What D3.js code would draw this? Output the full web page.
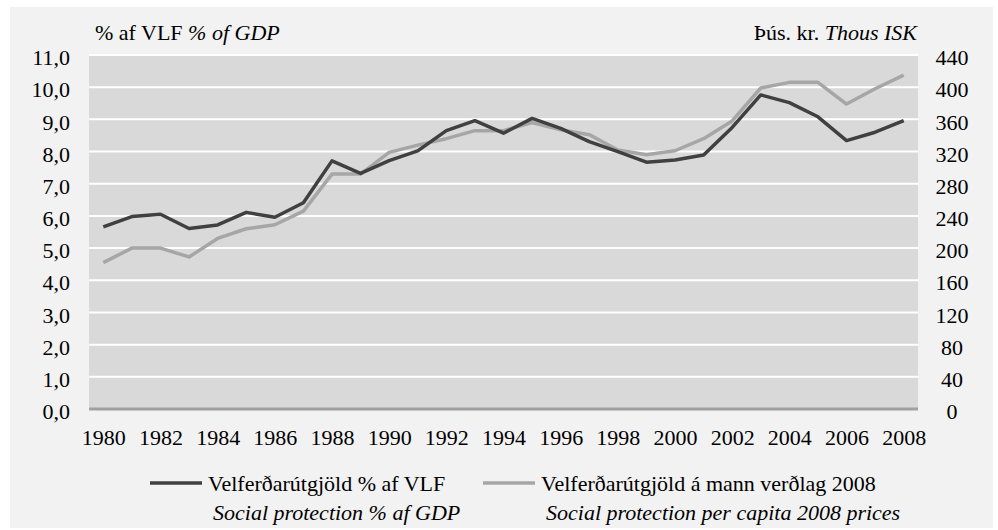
<!DOCTYPE html>
<html>
<head>
<meta charset="utf-8">
<script src="https://cdn.jsdelivr.net/npm/d3@7"></script>
<style>
  body { margin: 0; background: #fff; }
  svg text { font-family: "Liberation Serif", "Times New Roman", serif; fill: #000; }
</style>
</head>
<body>
<svg id="chart" width="998" height="530"></svg>
<script>
'use strict';
var years = d3.range(1980, 2009);
var yearTicks = d3.range(1980, 2009, 2);
// Velferðarútgjöld % af VLF (left axis)
var pctGdp = [5.66, 5.98, 6.05, 5.61, 5.72, 6.11, 5.96, 6.41, 7.71, 7.32,
  7.72, 8.02, 8.65, 8.96, 8.57, 9.03, 8.72, 8.31, 8.0, 7.67,
  7.74, 7.89, 8.75, 9.76, 9.52, 9.08, 8.34, 8.6, 8.96];
// Velferðarútgjöld á mann verðlag 2008, þús. kr. (right axis)
var perCapita = [182, 200, 200, 189, 212, 224, 229, 246, 292, 292,
  319, 328, 336, 346, 346, 356, 347, 341, 322, 316,
  321, 336, 358, 399, 406, 406, 379, 398, 415];
var leftTicks = d3.range(0, 12, 1);
var rightTicks = d3.range(0, 480, 40);

(function() {
  var svg = d3.select('#chart');
  var plot = {left: 89, right: 918, top: 55, bottom: 409};
  var fs = '22px';

  svg.append('rect')
    .attr('x', 10).attr('y', 7)
    .attr('width', 983).attr('height', 521)
    .attr('fill', '#f2f2f2');

  svg.append('rect')
    .attr('x', plot.left).attr('y', plot.top)
    .attr('width', plot.right - plot.left).attr('height', plot.bottom - plot.top)
    .attr('fill', '#d9d9d9');

  var x = d3.scalePoint()
    .domain(years)
    .range([plot.left, plot.right])
    .padding(0.5);

  var yL = d3.scaleLinear().domain([0, 11]).range([plot.bottom, plot.top]);
  var yR = d3.scaleLinear().domain([0, 440]).range([plot.bottom, plot.top]);

  // gridlines
  svg.append('g')
    .selectAll('line')
    .data(leftTicks.filter(function(d) { return d > 0; }))
    .enter().append('line')
    .attr('x1', plot.left).attr('x2', plot.right)
    .attr('y1', function(d) { return yL(d); })
    .attr('y2', function(d) { return yL(d); })
    .attr('stroke', '#fff')
    .attr('stroke-width', 2);

  svg.append('line')
    .attr('x1', plot.left).attr('x2', plot.right)
    .attr('y1', yL(0)).attr('y2', yL(0))
    .attr('stroke', '#a0a0a0')
    .attr('stroke-width', 3);

  // left axis
  var axisL = svg.append('g')
    .attr('transform', 'translate(70,0)')
    .call(d3.axisLeft(yL).tickValues(leftTicks).tickSize(0).tickPadding(0)
      .tickFormat(function(d) { return d3.format('.1f')(d).replace('.', ','); }));
  axisL.select('.domain').remove();
  axisL.selectAll('text')
    .attr('dy', '0.35em')
    .attr('y', 2)
    .style('font-size', fs)
    .style('font-family', '"Liberation Serif", serif');

  // right axis
  var axisR = svg.append('g')
    .attr('transform', 'translate(952,0)')
    .call(d3.axisRight(yR).tickValues(rightTicks).tickSize(0).tickPadding(0));
  axisR.select('.domain').remove();
  axisR.selectAll('text')
    .attr('text-anchor', 'middle')
    .attr('x', 0)
    .attr('dy', '0.35em')
    .attr('y', 2)
    .style('font-size', fs)
    .style('font-family', '"Liberation Serif", serif');

  // bottom axis
  var axisB = svg.append('g')
    .attr('transform', 'translate(0,' + plot.bottom + ')')
    .call(d3.axisBottom(x).tickValues(yearTicks).tickSize(0).tickPadding(0));
  axisB.select('.domain').remove();
  axisB.selectAll('text')
    .attr('y', 36)
    .attr('dy', 0)
    .style('font-size', fs)
    .style('font-family', '"Liberation Serif", serif');

  // lines
  var lineL = d3.line()
    .x(function(d, i) { return x(years[i]); })
    .y(function(d) { return yL(d); });
  var lineR = d3.line()
    .x(function(d, i) { return x(years[i]); })
    .y(function(d) { return yR(d); });

  svg.append('path')
    .datum(perCapita)
    .attr('d', lineR)
    .attr('fill', 'none')
    .attr('stroke', '#a6a6a6')
    .attr('stroke-width', 3.5)
    .attr('stroke-linejoin', 'round');

  svg.append('path')
    .datum(pctGdp)
    .attr('d', lineL)
    .attr('fill', 'none')
    .attr('stroke', '#404040')
    .attr('stroke-width', 3.5)
    .attr('stroke-linejoin', 'round');

  // axis titles
  var tl = svg.append('text')
    .attr('x', 95).attr('y', 40)
    .style('font-size', fs);
  tl.append('tspan').text('% af VLF  ');
  tl.append('tspan').style('font-style', 'italic').text('% of GDP');

  var tr = svg.append('text')
    .attr('x', 917).attr('y', 40)
    .attr('text-anchor', 'end')
    .style('font-size', fs);
  tr.append('tspan').text('Þús. kr.  ');
  tr.append('tspan').style('font-style', 'italic').text('Thous ISK');

  // legend
  var legend = [
    {x: 150, color: '#404040', l1: 'Velferðarútgjöld % af VLF', l2: 'Social protection % af GDP'},
    {x: 483, color: '#a6a6a6', l1: 'Velferðarútgjöld á mann verðlag 2008', l2: 'Social protection per capita 2008 prices'}
  ];
  var lg = svg.append('g').selectAll('g')
    .data(legend)
    .enter().append('g')
    .attr('transform', function(d) { return 'translate(' + d.x + ',0)'; });
  lg.append('line')
    .attr('x1', 0).attr('x2', 52)
    .attr('y1', 483).attr('y2', 483)
    .attr('stroke', function(d) { return d.color; })
    .attr('stroke-width', 3.5);
  lg.append('text')
    .attr('x', 58).attr('y', 491)
    .style('font-size', fs)
    .text(function(d) { return d.l1; });
  lg.append('text')
    .attr('x', 63).attr('y', 520)
    .style('font-size', fs)
    .style('font-style', 'italic')
    .text(function(d) { return d.l2; });
})();
</script>
</body>
</html>
